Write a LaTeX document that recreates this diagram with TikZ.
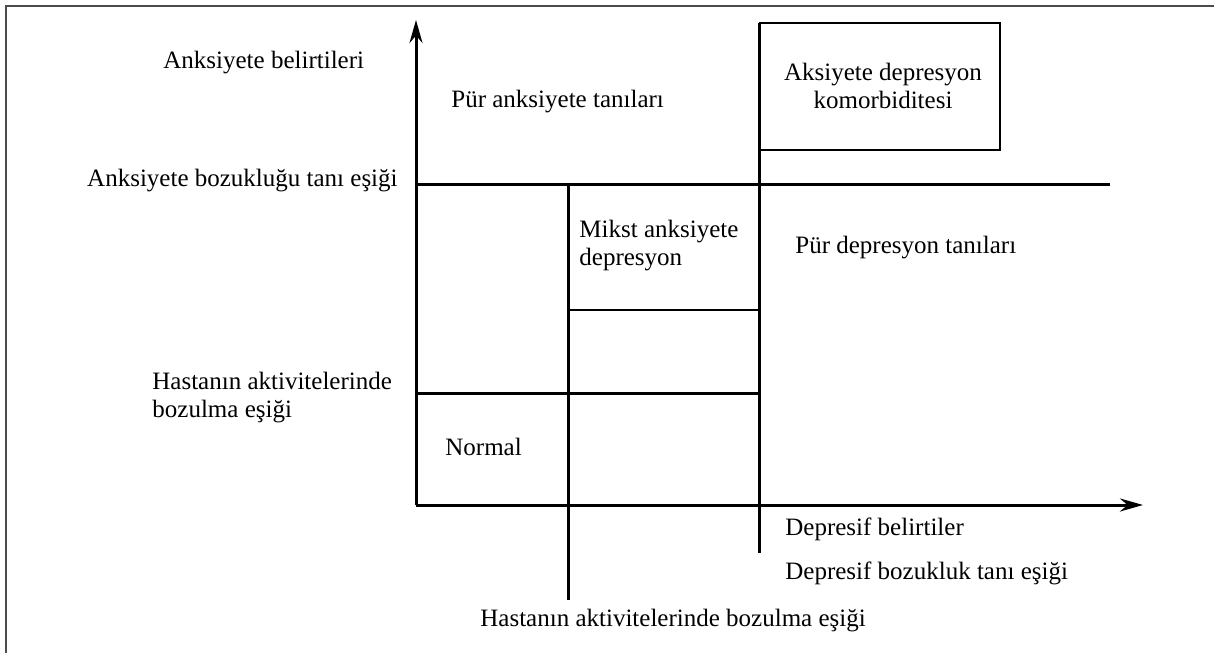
\documentclass[tikz,border=0pt]{standalone}
\usepackage{fontspec}
\setmainfont{Liberation Serif}
\usepackage{tikz}
\usetikzlibrary{arrows.meta}
\tikzstyle{lbl} = [inner sep=0pt, font=\fontsize{12.5}{14}\selectfont]
\tikzstyle{thr} = [line width=1.5pt, black]
\tikzstyle{thin} = [line width=0.75pt, black]
\tikzstyle{axis} = [thr, -{Stealth[length=11.5pt,width=6.5pt]}]
\tikzstyle{frame} = [line width=1pt, black!70]

\begin{document}
\begin{tikzpicture}[x=0.5pt,y=-0.5pt]
  \useasboundingbox (0,0) rectangle (1214,653);
  % corner points of the grid
  \coordinate (o) at (416,505);
  \coordinate (ytop) at (416,20);
  \coordinate (xend) at (1143,505);
  \coordinate (a1) at (416,184);
  \coordinate (a2) at (1110,184);
  \coordinate (h1) at (568,184);
  \coordinate (h2) at (568,600);
  \coordinate (d1) at (759,23);
  \coordinate (d2) at (759,553);
  \coordinate (b1) at (416,393);
  \coordinate (b2) at (759,393);
  \coordinate (m1) at (568,310);
  \coordinate (m2) at (759,310);
  \coordinate (k1) at (1000,23);
  \coordinate (k2) at (1000,150);
  \coordinate (k3) at (759,150);
  \coordinate (f1) at (6,653);
  \coordinate (f2) at (6,6);
  \coordinate (f3) at (1214,6);
  % texts
  \node[lbl, anchor=west](ylab) at (163,63) {Anksiyete belirtileri};
  \node[lbl, anchor=east](athr) at (398,181) {Anksiyete bozukluğu tanı eşiği};
  \node[lbl, anchor=west](pura) at (451,102) {Pür anksiyete tanıları};
  \node[lbl, align=center](comb) at (883,86) {Aksiyete depresyon\\komorbiditesi};
  \node[lbl, anchor=west, align=left](mix) at (579,246) {Mikst anksiyete\\depresyon};
  \node[lbl, anchor=west](purd) at (795,248) {Pür depresyon tanıları};
  \node[lbl, anchor=west, align=left](hthr) at (152,398) {Hastanın aktivitelerinde\\bozulma eşiği};
  \node[lbl, anchor=west](norm) at (445,447) {Normal};
  \node[lbl, anchor=west](xlab) at (785,529) {Depresif belirtiler};
  \node[lbl, anchor=west](dthr) at (785,573) {Depresif bozukluk tanı eşiği};
  \node[lbl, anchor=west](hthrx) at (480,621) {Hastanın aktivitelerinde bozulma eşiği};
  % lines
  \draw[frame] (f1) -- (f2) -- (f3);
  \draw[thin] (d1) -- (k1) -- (k2) -- (k3);
  \draw[thin] (m1) -- (m2);
  \draw[thr] (a1) -- (a2);
  \draw[thr] (h1) -- (h2);
  \draw[thr] (d1) -- (d2);
  \draw[thr] (b1) -- (b2);
  \draw[axis] (o) -- (ytop);
  \draw[axis] (o) -- (xend);
\end{tikzpicture}
\end{document}
